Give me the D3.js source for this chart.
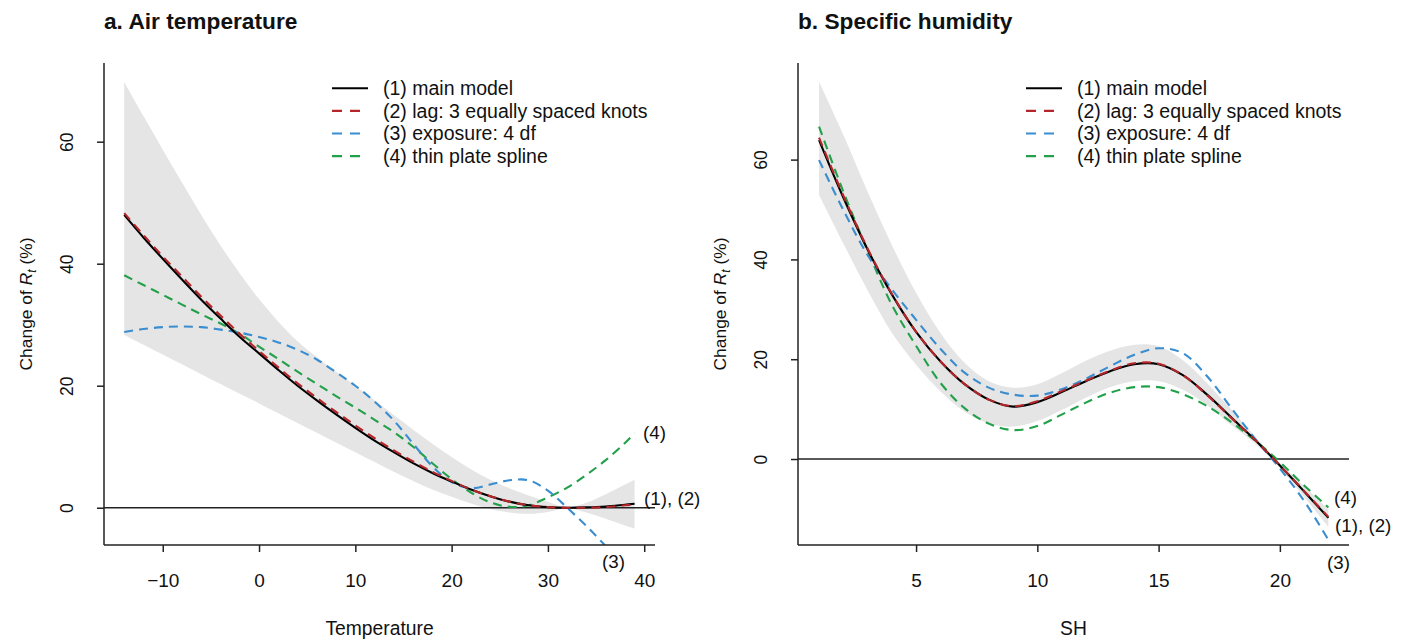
<!DOCTYPE html>
<html><head><meta charset="utf-8">
<script src="https://cdn.jsdelivr.net/npm/d3@7"></script>
<style>
body{margin:0;background:#fff;}
text{font-family:"Liberation Sans",Arial,sans-serif;fill:#111;}
</style></head>
<body><svg id="c" width="1405" height="640"></svg>
<script>
// ---------- data: panel a (air temperature) ----------
const tempX    = [-14,-12,-10,-8,-6,-4,-2,0,2,4,6,8,10,12,14,16,18,20,22,24,26,28,30,32,34,36,38,39];
const tempMain = [48.0,44.3,40.8,37.4,34.1,31.0,28.0,25.3,22.6,20.0,17.6,15.3,13.1,11.0,9.1,7.3,5.7,4.3,3.0,1.9,1.0,0.4,0.1,0.0,0.05,0.2,0.5,0.65];
const tempLag  = [48.3,44.7,41.2,37.9,34.6,31.5,28.5,25.7,23.0,20.4,18.0,15.7,13.5,11.4,9.4,7.6,5.9,4.4,3.0,1.9,1.0,0.4,0.1,0.0,0.0,0.1,0.4,0.5];
const tempExp  = [28.8,29.3,29.6,29.7,29.6,29.2,28.7,28.0,27.1,25.9,24.3,22.2,20.0,17.4,14.3,10.5,6.8,4.2,3.2,3.8,4.5,4.5,2.8,0.0,-3.0,-6.3,-9.8,-11.7];
const tempTps  = [38.1,36.5,34.9,33.3,31.7,30.2,28.5,26.4,24.4,22.3,20.3,18.3,16.4,14.4,12.4,10.0,7.3,4.7,2.5,0.9,0.15,0.4,1.7,3.3,5.4,7.8,10.6,12.2];
const tempLow  = [28.3,26.7,25.1,23.5,21.9,20.3,18.7,17.1,15.5,13.9,12.3,10.7,9.1,7.5,5.9,4.4,3.0,1.8,0.7,-0.2,-0.8,-1.0,-0.7,-0.05,-0.8,-1.8,-2.9,-3.4];
const tempHigh = [69.8,64.2,58.7,53.3,48.0,43.0,38.4,34.2,30.5,27.3,24.7,22.3,20.0,17.6,15.2,12.8,10.5,8.3,6.3,4.6,3.2,2.0,1.0,0.1,0.8,2.2,3.8,4.6];
const tempXTicks = [-10,0,10,20,30,40];
const tempYTicks = [0,20,40,60];

// ---------- data: panel b (specific humidity) ----------
const shX    = [1,2,3,4,5,6,7,8,9,10,11,12,13,14,15,16,17,18,19,20,21,22];
const shMain = [63.9,52.4,42.0,33.0,25.5,19.6,15.0,11.9,10.5,11.4,13.4,15.6,17.6,19.0,19.0,16.8,12.9,8.3,3.7,-1.3,-6.5,-11.8];
const shLag  = [64.4,52.8,42.2,33.1,25.5,19.6,15.0,11.9,10.6,11.6,13.6,15.7,17.7,19.2,19.1,16.8,12.8,8.2,3.7,-1.3,-6.4,-11.6];
const shExp  = [59.9,49.9,40.9,34.0,27.9,22.1,17.3,14.3,12.9,12.7,14.0,16.1,18.6,20.9,22.2,21.2,16.6,10.2,3.9,-1.9,-8.4,-16.2];
const shTps  = [66.6,53.6,41.8,30.9,22.7,15.3,10.2,7.1,5.8,6.6,8.9,11.3,13.3,14.4,14.4,13.0,10.6,7.4,3.6,-0.6,-5.3,-9.7];
const shLow  = [52.9,43.2,33.8,25.3,18.9,13.6,9.5,7.1,6.5,7.6,9.8,12.3,14.4,15.6,15.6,13.9,10.8,6.8,3.0,-1.8,-7.6,-13.6];
const shHigh = [75.6,65.0,53.6,42.9,33.3,25.3,19.3,15.6,14.3,15.0,17.2,19.7,21.7,22.9,22.6,19.8,15.2,9.9,4.4,-0.8,-5.4,-10.1];
const shXTicks = [5,10,15,20];
const shYTicks = [0,20,40,60];

const legendLabels = ["(1) main model","(2) lag: 3 equally spaced knots","(3) exposure: 4 df","(4) thin plate spline"];
const seriesColors = ["#000000","#B5262A","#3A8DCF","#23A04A"];

// ---------- drawing ----------
const svg = d3.select("#c");

const panels = [
  {id:"a", title:"a. Air temperature", xlab:"Temperature",
   x:tempX, series:[tempMain,tempLag,tempExp,tempTps], low:tempLow, high:tempHigh,
   xt:tempXTicks, yt:tempYTicks,
   left:104, right:655, top:63, bottom:545, xDom:[-16.1,41.12], yDom:[-6.11,72.9],
   endLabels:[{t:"(4)",x:643,y:432},{t:"(1), (2)",x:644,y:498},{t:"(3)",x:602,y:561}]},
  {id:"b", title:"b. Specific humidity", xlab:"SH",
   x:shX, series:[shMain,shLag,shExp,shTps], low:shLow, high:shHigh,
   xt:shXTicks, yt:shYTicks,
   left:798, right:1349, top:63, bottom:545, xDom:[0.132,22.85], yDom:[-17.23,79.36],
   endLabels:[{t:"(4)",x:1334,y:497},{t:"(1), (2)",x:1335,y:525},{t:"(3)",x:1327,y:562}]}
];

panels.forEach(p=>{
  const xs = d3.scaleLinear().domain(p.xDom).range([p.left,p.right]);
  const ys = d3.scaleLinear().domain(p.yDom).range([p.bottom,p.top]);
  const g = svg.append("g");

  g.append("clipPath").attr("id","clip"+p.id).append("rect")
    .attr("x",p.left).attr("y",p.top).attr("width",p.right-p.left).attr("height",p.bottom-p.top);

  const plot = g.append("g").attr("clip-path","url(#clip"+p.id+")");

  // CI band
  const band = p.x.map((v,i)=>({x:v,lo:p.low[i],hi:p.high[i]}));
  plot.append("path").datum(band)
    .attr("d", d3.area().x(d=>xs(d.x)).y0(d=>ys(d.lo)).y1(d=>ys(d.hi)).curve(d3.curveCatmullRom.alpha(0.5)))
    .attr("fill","#E5E5E5");

  // zero line
  plot.append("line").attr("x1",p.left).attr("x2",p.right)
    .attr("y1",ys(0)).attr("y2",ys(0)).attr("stroke","#222").attr("stroke-width",1.3);

  const line = d3.line().x(d=>xs(d[0])).y(d=>ys(d[1])).curve(d3.curveCatmullRom.alpha(0.5));
  [3,2,0,1].forEach(k=>{
    const pts = p.x.map((v,i)=>[v,p.series[k][i]]);
    plot.append("path").datum(pts).attr("d",line)
      .attr("fill","none").attr("stroke",seriesColors[k])
      .attr("stroke-width",2.1)
      .attr("stroke-dasharray",k===0?null:"9,6");
  });

  // axes (L shape)
  const xAxis = d3.axisBottom(xs).tickValues(p.xt).tickSize(7).tickFormat(d3.format("d"));
  const gx = g.append("g").attr("transform",`translate(0,${p.bottom})`).call(xAxis);
  gx.select(".domain").attr("d",`M${p.left},0H${p.right}`);
  const yAxis = d3.axisLeft(ys).tickValues(p.yt).tickSize(7).tickFormat(d3.format("d"));
  const gy = g.append("g").attr("transform",`translate(${p.left},0)`).call(yAxis);
  gy.select(".domain").attr("d",`M0,${p.top}V${p.bottom}`);
  [gx,gy].forEach(a=>{
    a.selectAll(".domain").attr("stroke","#222").attr("stroke-width",1.5);
    a.selectAll(".tick line").attr("stroke","#222").attr("stroke-width",1.5);
    a.selectAll("text").attr("fill","#111")
      .style("font-family","'Liberation Sans',Arial,sans-serif");
  });
  gx.selectAll(".tick text").attr("y",null).attr("dy",null)
    .attr("transform","translate(0,42)").style("font-size","19px");
  gy.selectAll(".tick text").attr("x",null).attr("dy",null)
    .attr("text-anchor","middle").style("font-size","17.5px")
    .attr("transform","translate(-31,0) rotate(-90)");

  // title
  g.append("text").attr("x",p.left).attr("y",29).text(p.title)
    .style("font-size","22.7px").style("font-weight","bold");
  // x label
  g.append("text").attr("x",(p.left+p.right)/2).attr("y",635).attr("text-anchor","middle")
    .style("font-size","19.3px").text(p.xlab);
  // y label
  const yl = g.append("text").attr("text-anchor","middle")
    .attr("transform",`translate(${p.left-72},${(p.top+p.bottom)/2}) rotate(-90)`)
    .style("font-size","17.4px");
  yl.append("tspan").text("Change of ");
  yl.append("tspan").style("font-style","italic").text("R");
  yl.append("tspan").style("font-style","italic").style("font-size","12px").attr("dy",4).text("t");
  yl.append("tspan").attr("dy",-4).text(" (%)");

  // legend
  const lg = g.append("g");
  legendLabels.forEach((lab,i)=>{
    const yy = 88.3 + i*22.6;
    lg.append("line").attr("x1",p.left+228).attr("x2",p.left+264).attr("y1",yy).attr("y2",yy)
      .attr("stroke",seriesColors[i]).attr("stroke-width",2.1)
      .attr("stroke-dasharray",i===0?null:"10,8");
    lg.append("text").attr("x",p.left+279).attr("y",yy).attr("dy","0.35em")
      .style("font-size","19.5px").text(lab);
  });

  // end labels
  p.endLabels.forEach(e=>{
    g.append("text").attr("x",e.x).attr("y",e.y).attr("dy","0.35em")
      .style("font-size","18.8px").text(e.t);
  });
});
</script></body></html>
